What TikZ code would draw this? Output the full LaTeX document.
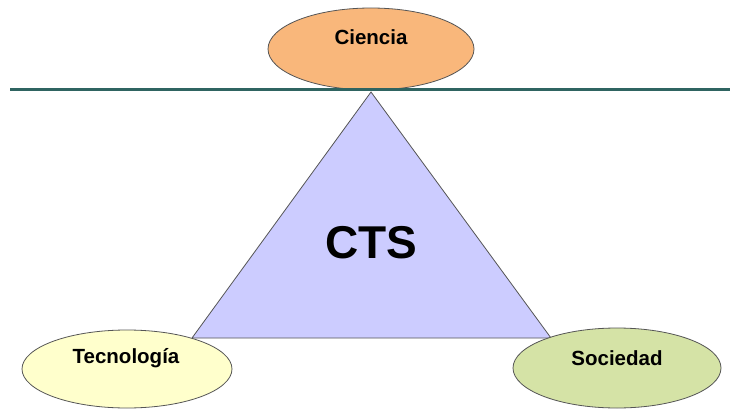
\documentclass[tikz,border=0pt]{standalone}
\usepackage{fontspec}
\setmainfont{Liberation Sans}
\usetikzlibrary{shapes.geometric}
\definecolor{cienciafill}{HTML}{F9B77B}
\definecolor{tecfill}{HTML}{FFFFCC}
\definecolor{socfill}{HTML}{D5E3A6}
\definecolor{trifill}{HTML}{CCCCFF}
\definecolor{linecol}{HTML}{2F6461}
\definecolor{edgecol}{HTML}{555555}
\tikzset{
  oval/.style={ellipse, draw=edgecol, line width=0.8pt, inner sep=0pt},
  ovaltext/.style={font=\bfseries\fontsize{20.5}{22}\selectfont, inner sep=0pt, anchor=center},
}
\begin{document}
\begin{tikzpicture}[x=1pt,y=-1pt]
\useasboundingbox (0,0) rectangle (730,409);
\fill[white] (0,0) rectangle (730,409);
% triangle
\coordinate (apex) at (371,92);
\coordinate (bl) at (192,338);
\coordinate (br) at (551,338);
\draw[fill=trifill, draw=edgecol, line width=0.8pt, line join=miter] (apex) -- (bl) -- (br) -- cycle;
\node[font=\bfseries\fontsize{46}{50}\selectfont, inner sep=0pt] (cts) at (371,243) {CTS};
% ellipses
\node[oval, fill=cienciafill, minimum width=206pt, minimum height=82pt] (ciencia) at (371,49) {};
\node[ovaltext] (cienciatxt) at (371,37) {Ciencia};
\node[oval, fill=tecfill, minimum width=210pt, minimum height=78pt] (tecnologia) at (127,369) {};
\node[ovaltext] (tectxt) at (126,358) {Tecnología};
\node[oval, fill=socfill, minimum width=208pt, minimum height=80pt] (sociedad) at (617,368) {};
\node[ovaltext] (soctxt) at (617,358) {Sociedad};
% horizontal line
\coordinate (lineL) at (10,90);
\coordinate (lineR) at (730,90);
\draw[linecol, line width=3pt] (lineL) -- (lineR);
\end{tikzpicture}
\end{document}
